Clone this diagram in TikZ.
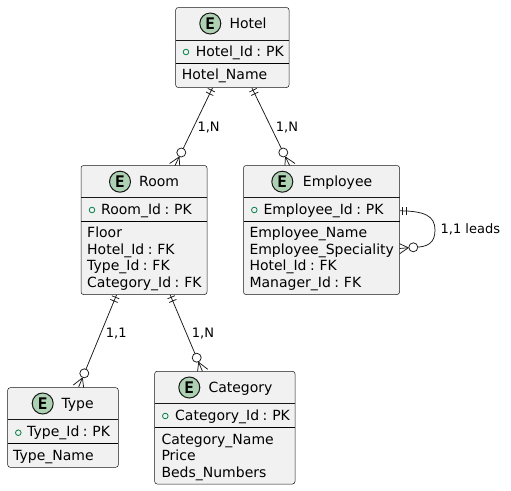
\documentclass[tikz,border=0pt]{standalone}
\usepackage{fontspec}
\setmainfont{DejaVu Sans}
\newfontfamily\iconfont{DejaVu Sans Mono}
\usetikzlibrary{calc}
\pgfdeclarelayer{links}
\pgfsetlayers{links,main}
\definecolor{boxfill}{HTML}{F1F1F1}
\definecolor{boxline}{HTML}{181818}
\definecolor{iconfill}{HTML}{ADD1B2}
\definecolor{visgreen}{HTML}{038048}
\newcommand{\attrfont}{\fontsize{14}{14}\selectfont\spaceskip 3.45pt\relax}
\tikzset{
  x=1pt,y=-1pt,
  entitybox/.style={draw=boxline,line width=0.5pt,fill=boxfill,rounded corners=2.5pt,inner sep=0pt,outer sep=0pt,anchor=north west},
  titletext/.style={anchor=base west,inner sep=0pt,font=\fontsize{14}{14}\selectfont,text=black},
  attr/.style={anchor=base west,inner sep=0pt,font=\attrfont,text=black},
  linklabel/.style={anchor=base west,inner sep=0pt,font=\fontsize{13}{13}\selectfont,text=black},
  iconcirc/.style={circle,draw=boxline,line width=1pt,fill=iconfill,minimum size=21pt,inner sep=0pt,font=\iconfont\bfseries\fontsize{16}{16}\selectfont,text=black},
  vismark/.style={circle,draw=visgreen,line width=0.8pt,minimum size=5.6pt,inner sep=0pt},
  link/.style={draw=boxline,line width=0.75pt},
  ringmark/.style={circle,draw=boxline,line width=0.75pt,fill=white,minimum size=9pt,inner sep=0pt},
}
% #1 name, #2 x1, #3 y1, #4 x2, #5 header line y, #6 divider y, #7 y2
\newcommand{\entitybody}[7]{%
  \node[entitybox,minimum width=#4pt-#2pt,minimum height=#7pt-#3pt] (#1) at (#2,#3) {};
  \draw[boxline,line width=0.5pt] (#2,#5) -- (#4,#5);
  \draw[black,line width=1pt] (#2,#6) -- (#4,#6);
}
% #1 point behind the ring, #2 ring node: foot continues past the ring, under the box
\newcommand{\crowfoot}[2]{%
  \coordinate (ap) at ($(#2)!-5pt!(#1)$);
  \coordinate (ft) at ($(#2)!-15pt!(#1)$);
  \draw[link] (ap) -- (ft);
  \draw[link] (ap) -- ($(ft)!5.7pt!90:(#2)$);
  \draw[link] (ap) -- ($(ft)!5.7pt!-90:(#2)$);
}
% #1 start coordinate, #2 next point
\newcommand{\barpair}[2]{%
  \draw[link] ($(#1)!3pt!(#2)$) -- ($($(#1)!3pt!(#2)$)!4pt!90:(#2)$);
  \draw[link] ($(#1)!3pt!(#2)$) -- ($($(#1)!3pt!(#2)$)!4pt!-90:(#2)$);
  \draw[link] ($(#1)!7pt!(#2)$) -- ($($(#1)!7pt!(#2)$)!4pt!90:(#2)$);
  \draw[link] ($(#1)!7pt!(#2)$) -- ($($(#1)!7pt!(#2)$)!4pt!-90:(#2)$);
}
\begin{document}
\begin{tikzpicture}
\useasboundingbox (0,0) rectangle (511,490);
\begin{pgfonlayer}{links}
\fill[white] (0,0) rectangle (511,490);
\end{pgfonlayer}

% Hotel
\entitybody{hotel}{175.7}{7.5}{289}{40}{63.3}{87.5}
\node[iconcirc] (hotelicon) at (210.3,23.5) {E};
\node[titletext] (hoteltitle) at (229.3,28) {Hotel};
\node[vismark] (hotelvis) at (186,52) {};
\node[attr] (hotelid) at (195.7,56) {Hotel\_Id : PK};
\node[attr] (hotelname) at (181.7,79.3) {Hotel\_Name};

% Room
\entitybody{room}{81}{165.5}{207}{197.5}{221}{294.5}
\node[iconcirc] (roomicon) at (120,181.7) {E};
\node[titletext] (roomtitle) at (139,186) {Room};
\node[vismark] (roomvis) at (92,210) {};
\node[attr] (roomid) at (101,214.3) {Room\_Id : PK};
\node[attr] (roomfloor) at (87,237.3) {Floor};
\node[attr] (roomhotel) at (87,254) {Hotel\_Id : FK};
\node[attr] (roomtype) at (87,270.5) {Type\_Id : FK};
\node[attr] (roomcat) at (87,287) {Category\_Id : FK};

% Employee
\entitybody{employee}{243.5}{165.5}{399.5}{197.5}{221}{294.5}
\node[iconcirc] (empicon) at (282.3,181.7) {E};
\node[titletext] (emptitle) at (302.7,186) {Employee};
\node[vismark] (empvis) at (254.3,210) {};
\node[attr] (empid) at (263.3,214.3) {Employee\_Id : PK};
\node[attr] (empname) at (249.3,237.3) {Employee\_Name};
\node[attr] (empspec) at (249.3,254) {Employee\_Speciality};
\node[attr] (emphotel) at (249.3,270.5) {Hotel\_Id : FK};
\node[attr] (empmgr) at (249.3,287) {Manager\_Id : FK};

% Type
\entitybody{type}{7.7}{387.7}{118.3}{419.3}{443.3}{467.3}
\node[iconcirc] (typeicon) at (42.7,403.5) {E};
\node[titletext] (typetitle) at (61.3,408.3) {Type};
\node[vismark] (typevis) at (18.3,432.7) {};
\node[attr] (typeid) at (27,436.5) {Type\_Id : PK};
\node[attr] (typename) at (13,460) {Type\_Name};

% Category
\entitybody{category}{154.7}{371.3}{295}{403.3}{427}{484}
\node[iconcirc] (caticon) at (189.3,387.5) {E};
\node[titletext] (cattitle) at (208.3,392) {Category};
\node[vismark] (catvis) at (165.3,416) {};
\node[attr] (catid) at (175,420.3) {Category\_Id : PK};
\node[attr] (catname) at (161.3,444) {Category\_Name};
\node[attr] (catprice) at (161.3,460.5) {Price};
\node[attr] (catbeds) at (161.3,477) {Beds\_Numbers};

% Connector start points, relative to their entities
\coordinate (hs1) at ($(hotel.south west)+(37,0)$);
\coordinate (hs2) at ($(hotel.south west)+(76,0)$);
\coordinate (rs1) at ($(room.south west)+(35.7,0)$);
\coordinate (rs2) at ($(room.south west)+(89,0)$);
\coordinate (es1) at ($(employee.north east)+(0,45.3)$);
\coordinate (es1n) at ($(es1)+(20,0)$);
\coordinate (rg5n) at (426,246.2);

% Rings
\node[ringmark] (ring1) at (181.3,152.5) {};
\node[ringmark] (ring2) at (283.3,152.5) {};
\node[ringmark] (ring3) at (84.3,373.3) {};
\node[ringmark] (ring4) at (196.7,357.7) {};
\node[ringmark] (ring5) at (413.3,247.3) {};

\begin{pgfonlayer}{links}
\draw[link] (hs1) -- (ring1.center);
\barpair{hs1}{ring1.center}
\crowfoot{hs1}{ring1.center}
\draw[link] (hs2) -- (ring2.center);
\barpair{hs2}{ring2.center}
\crowfoot{hs2}{ring2.center}
\draw[link] (rs1) -- (ring3.center);
\barpair{rs1}{ring3.center}
\crowfoot{rs1}{ring3.center}
\draw[link] (rs2) -- (ring4.center);
\barpair{rs2}{ring4.center}
\crowfoot{rs2}{ring4.center}
\draw[link] (es1) .. controls (425,211) and (435,216) .. (435,230) .. controls (435,243) and (428,247.3) .. (ring5.center);
\barpair{es1}{es1n}
\crowfoot{rg5n}{ring5.center}
\end{pgfonlayer}

% Labels
\node[linklabel] (lab1) at (197.3,131) {1,N};
\node[linklabel] (lab2) at (275.7,131) {1,N};
\node[linklabel] (lab3) at (105.7,337.3) {1,1};
\node[linklabel] (lab4) at (191.7,337.3) {1,N};
\node[linklabel] (lab5) at (440.5,233.5) {1,1 leads};
\end{tikzpicture}
\end{document}
